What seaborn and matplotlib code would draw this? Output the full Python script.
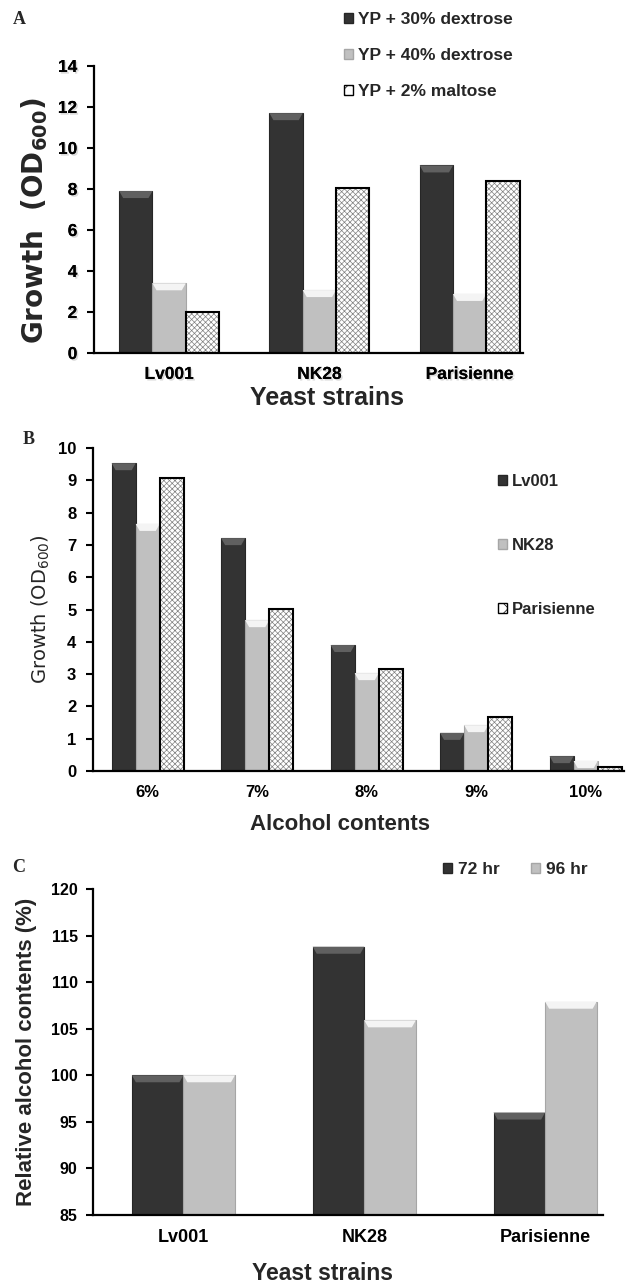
import numpy as np
import pandas as pd
import matplotlib
matplotlib.use('Agg')
import matplotlib.pyplot as plt
import matplotlib.patheffects as pe
import seaborn as sns
from matplotlib.patches import Polygon, Rectangle, Patch

# --- data ---
strains = ['Lv001', 'NK28', 'Parisienne']
media = ['YP + 30% dextrose', 'YP + 40% dextrose', 'YP + 2% maltose']
growth_30_dextrose = [7.9, 11.7, 9.15]
growth_40_dextrose = [3.4, 3.07, 2.88]
growth_2_maltose = [2.0, 8.05, 8.38]

alcohol_levels = ['6%', '7%', '8%', '9%', '10%']
growth_lv001 = [9.53, 7.21, 3.9, 1.18, 0.46]
growth_nk28 = [7.65, 4.67, 3.03, 1.42, 0.31]
growth_parisienne = [9.07, 5.01, 3.16, 1.67, 0.12]

times = ['72 hr', '96 hr']
rel_alcohol_72 = [100, 113.8, 96.0]
rel_alcohol_96 = [100, 105.9, 107.9]

DARK = '#333333'
LIGHT = '#c0c0c0'

sns.set_theme(style='ticks')
plt.rcParams['font.family'] = ['Liberation Sans', 'DejaVu Sans']
plt.rcParams['font.weight'] = 'bold'
plt.rcParams['axes.labelweight'] = 'bold'
plt.rcParams['mathtext.default'] = 'regular'
plt.rcParams['hatch.linewidth'] = 0.5

W, H = 632, 1286
fig = plt.figure(figsize=(W / 100, H / 100), dpi=100, facecolor='white')


def px_axes(l, t, r, b):
    return fig.add_axes([l / W, 1 - b / H, (r - l) / W, (b - t) / H])


def bevel(ax, p, color, px=7, inset=4):
    bb = ax.get_window_extent()
    y0, y1 = ax.get_ylim()
    x0, x1 = ax.get_xlim()
    dy = px * (y1 - y0) / bb.height
    dx = inset * (x1 - x0) / bb.width
    x, w = p.get_x(), p.get_width()
    top = p.get_y() + p.get_height()
    ax.add_patch(Polygon([(x, top), (x + w, top), (x + w - dx, top - dy), (x + dx, top - dy)],
                         closed=True, fc=color, ec='none', zorder=p.get_zorder() + 0.1))


def decorate(ax, kinds):
    for cont, kind in zip(ax.containers, kinds):
        for p in cont.patches:
            if kind == 'dark':
                p.set_edgecolor('#262626')
                p.set_linewidth(0.8)
                bevel(ax, p, '#606060')
            elif kind == 'light':
                p.set_edgecolor('#a6a6a6')
                p.set_linewidth(0.8)
                bevel(ax, p, '#f4f4f4')
            else:
                p.set_facecolor('white')
                p.set_hatch('xxxxxx')
                p.set_edgecolor('#808080')
                p.set_linewidth(0)
                ax.add_patch(Rectangle((p.get_x(), p.get_y()), p.get_width(), p.get_height(),
                                       fill=False, ec='black', lw=1.5, zorder=p.get_zorder() + 0.2))


def style_axes(ax, ysize, xsize, ypad, xpad, xtick_len=4):
    sns.despine(ax=ax)
    for s in ['left', 'bottom']:
        ax.spines[s].set_linewidth(1.6)
        ax.spines[s].set_color('black')
    ax.tick_params(axis='y', direction='out', length=5, width=1.5, pad=ypad,
                   labelsize=ysize, colors='black')
    ax.tick_params(axis='x', direction='in', length=xtick_len, width=1.5, pad=xpad,
                   labelsize=xsize, colors='black')


# ---------------- Panel A ----------------
axA = px_axes(94, 66, 523, 353)
dfA = pd.DataFrame({'strain': strains * 3,
                    'medium': np.repeat(media, len(strains)),
                    'od': growth_30_dextrose + growth_40_dextrose + growth_2_maltose})
sns.barplot(data=dfA, x='strain', y='od', hue='medium', order=strains, hue_order=media,
            palette=[DARK, LIGHT, 'white'], width=0.665, saturation=1, errorbar=None,
            legend=False, ax=axA)
axA.set_xlim(-0.5, len(strains) - 1 + 0.355)
axA.set_ylim(0, 14)
axA.set_yticks(range(0, 15, 2))
style_axes(axA, 12.5, 12.5, 7, 10)
decorate(axA, ['dark', 'light', 'hatch'])
shadow = [pe.withSimplePatchShadow(offset=(1.2, -1.2), shadow_rgbFace='#999999', alpha=0.35), pe.Normal()]
for t in axA.get_xticklabels() + axA.get_yticklabels():
    t.set_path_effects(shadow)
axA.set_xlabel('Yeast strains', size=18, weight='bold', va='center')
axA.xaxis.set_label_coords((327 - 94) / 429, (353 - 398) / 287)
axA.set_ylabel('Growth  (OD$_{600}$)', family='DejaVu Sans', weight='bold', size=20, va='center')
axA.yaxis.set_label_coords((35 - 94) / 429, 0.46)

hA = [Patch(fc=DARK, ec='#262626'), Patch(fc=LIGHT, ec='#a6a6a6'),
      Patch(fc='white', ec='black', hatch='xx')]
fig.legend(hA, media, loc='upper left', bbox_to_anchor=(344 / W, 1 - 12 / H), frameon=False,
           fontsize=12.5, handlelength=0.52, handleheight=0.52, handletextpad=0.3,
           labelspacing=1.22, borderpad=0, borderaxespad=0)

# ---------------- Panel B ----------------
axB = px_axes(93, 448, 624, 771)
dfB = pd.DataFrame({'alcohol': alcohol_levels * 3,
                    'strain': np.repeat(strains, len(alcohol_levels)),
                    'od': growth_lv001 + growth_nk28 + growth_parisienne})
sns.barplot(data=dfB, x='alcohol', y='od', hue='strain', order=alcohol_levels, hue_order=strains,
            palette=[DARK, LIGHT, 'white'], width=0.66, saturation=1, errorbar=None,
            legend=False, ax=axB)
axB.set_xlim(-0.5, len(alcohol_levels) - 1 + 0.35)
axB.set_ylim(0, 10)
axB.set_yticks(range(0, 11))
style_axes(axB, 12, 12, 7, 10, xtick_len=0)
decorate(axB, ['dark', 'light', 'hatch'])
axB.set_xlabel('Alcohol contents', size=16, weight='bold', va='center')
axB.xaxis.set_label_coords((340 - 93) / 531, (771 - 824) / 323)
axB.set_ylabel('Growth (OD$_{600}$)', family='DejaVu Sans', weight='normal', size=14, va='center')
axB.yaxis.set_label_coords((41 - 93) / 531, 0.5)

hB = [Patch(fc=DARK, ec='#262626'), Patch(fc=LIGHT, ec='#a6a6a6'),
      Patch(fc='white', ec='black', hatch='xx')]
fig.legend(hB, strains, loc='upper left', bbox_to_anchor=(498 / W, 1 - 474 / H), frameon=False,
           fontsize=12, handlelength=0.54, handleheight=0.54, handletextpad=0.3,
           labelspacing=2.95, borderpad=0, borderaxespad=0)

# ---------------- Panel C ----------------
axC = px_axes(93, 889, 603, 1215)
dfC = pd.DataFrame({'strain': strains * 2,
                    'time': np.repeat(times, len(strains)),
                    'rel': rel_alcohol_72 + rel_alcohol_96})
sns.barplot(data=dfC, x='strain', y='rel', hue='time', order=strains, hue_order=times,
            palette=[DARK, LIGHT], width=0.57, saturation=1, errorbar=None,
            legend=False, ax=axC)
axC.set_xlim(-0.5, len(strains) - 1 + 0.32)
axC.set_ylim(85, 120)
axC.set_yticks(range(85, 121, 5))
style_axes(axC, 11.5, 13, 6, 10, xtick_len=3)
decorate(axC, ['dark', 'light'])
axC.set_xlabel('Yeast strains', size=16.5, weight='bold', va='center')
axC.xaxis.set_label_coords((322 - 93) / 510, (1215 - 1273) / 326)
axC.set_ylabel('Relative alcohol contents (%)', size=16, weight='bold', va='center')
axC.yaxis.set_label_coords((27 - 93) / 510, 0.5)

hC = [Patch(fc=DARK, ec='#262626'), Patch(fc=LIGHT, ec='#a6a6a6')]
fig.legend(hC, times, loc='upper left', bbox_to_anchor=(443 / W, 1 - 862 / H), frameon=False,
           ncol=2, fontsize=12.5, handlelength=0.52, handleheight=0.52, handletextpad=0.35,
           columnspacing=1.8, borderpad=0, borderaxespad=0)

# panel letters
for letter, x, y in [('A', 13, 19), ('B', 23, 439), ('C', 12, 867)]:
    fig.text(x / W, 1 - y / H, letter, family='Liberation Serif', weight='bold', size=13,
             ha='left', va='center')

fig.savefig('out.png', dpi=100, facecolor='white')
plt.close(fig)
